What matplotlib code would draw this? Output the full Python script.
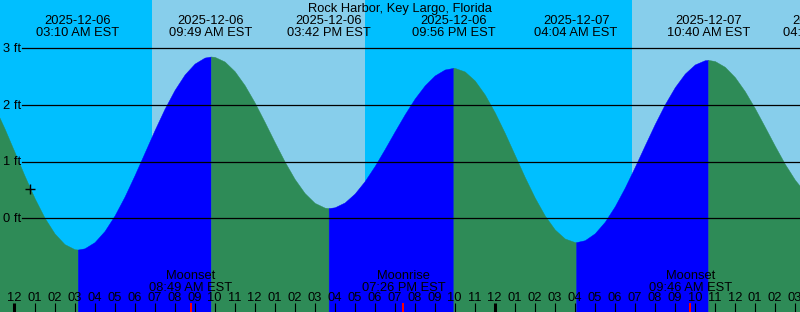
#!/usr/bin/env python3
# Tide graph, Rock Harbor / Key Largo, 2025-12-06 .. 2025-12-07 (XTide style)
import matplotlib
matplotlib.use("Agg")  # no display
import matplotlib.pyplot as plt
import matplotlib.transforms as mtransforms

plt.rcParams["font.family"] = ["Liberation Sans", "DejaVu Sans"]

STATION = "Rock Harbor, Key Largo, Florida"

# hours after 2025-12-06 00:00 EST, water level in ft
hours = [-1.0, -0.5, 0.0, 0.5, 1.0, 1.5, 2.0, 2.5, 3.0, 3.167,
         3.5, 4.0, 4.5, 5.0, 5.5, 6.0, 6.5, 7.0, 7.5, 8.0, 8.5, 9.0, 9.5, 9.817,
         10.0, 10.5, 11.0, 11.5, 12.0, 12.5, 13.0, 13.5, 14.0, 14.5, 15.0, 15.5, 15.7,
         16.0, 16.5, 17.0, 17.5, 18.0, 18.5, 19.0, 19.5, 20.0, 20.5, 21.0, 21.5, 21.933,
         22.0, 22.5, 23.0, 23.5, 24.0, 24.5, 25.0, 25.5, 26.0, 26.5, 27.0, 27.5, 28.0, 28.067,
         28.5, 29.0, 29.5, 30.0, 30.5, 31.0, 31.5, 32.0, 32.5, 33.0, 33.5, 34.0, 34.5, 34.667,
         35.0, 35.5, 36.0, 36.5, 37.0, 37.5, 38.0, 38.5, 39.0, 39.5]
level_ft = [1.965, 1.583, 1.169, 0.752, 0.357, 0.011, -0.266, -0.455, -0.544, -0.55,
            -0.529, -0.420, -0.224, 0.049, 0.382, 0.759, 1.156, 1.554, 1.930, 2.261, 2.532, 2.725, 2.831, 2.85,
            2.844, 2.762, 2.592, 2.346, 2.041, 1.698, 1.343, 1.000, 0.693, 0.445, 0.272, 0.188, 0.18,
            0.194, 0.279, 0.436, 0.655, 0.921, 1.219, 1.529, 1.831, 2.109, 2.341, 2.516, 2.621, 2.65,
            2.649, 2.586, 2.427, 2.181, 1.866, 1.504, 1.115, 0.726, 0.364, 0.049, -0.197, -0.356, -0.419, -0.42,
            -0.386, -0.264, -0.061, 0.212, 0.541, 0.906, 1.287, 1.662, 2.009, 2.310, 2.549, 2.710, 2.785, 2.79,
            2.770, 2.668, 2.487, 2.238, 1.938, 1.610, 1.276, 0.957, 0.679, 0.460]

# high / low tide labels along the top
ext_hours = [3.167, 9.817, 15.7, 21.933, 28.067, 34.667, 40.52]
ext_date = ["2025-12-06", "2025-12-06", "2025-12-06", "2025-12-06",
            "2025-12-07", "2025-12-07", "2025-12-07"]
ext_time = ["03:10 AM EST", "09:49 AM EST", "03:42 PM EST", "09:56 PM EST",
            "04:04 AM EST", "10:40 AM EST", "04:31 PM EST"]

# daylight (sunrise, sunset)
day_spans = [(6.87, 17.5), (30.88, 41.5)]

# moon events along the bottom
moon_hours = [8.817, 19.433, 33.767]
moon_event = ["Moonset", "Moonrise", "Moonset"]
moon_time = ["08:49 AM EST", "07:26 PM EST", "09:46 AM EST"]

ft_lines = [0, 1, 2, 3]
now_hour, now_ft = 0.775, 0.516

W, H = 800, 312
PX_PER_HOUR = 20.01
PX_PER_FT = 56.77
X0_PX = 14.5      # pixel of 2025-12-06 00:00
Y0_PX = 218.3     # pixel of 0 ft

NIGHT = "#00BFFF"
DAY = "#87CEEB"
RISING = "#0000FF"
FALLING = "#2E8B57"
FS = 9.3


def ypx(p):
    """pixel row from top -> axes fraction"""
    return 1.0 - p / H


fig = plt.figure(figsize=(W / 100, H / 100), dpi=100)
ax = fig.add_axes([0, 0, 1, 1])
ax.set_axis_off()
ax.set_xlim(-X0_PX / PX_PER_HOUR, (W - X0_PX) / PX_PER_HOUR)
ax.set_ylim(-(H - Y0_PX) / PX_PER_FT, Y0_PX / PX_PER_FT)
bottom = ax.get_ylim()[0]

# background: night everywhere, day on top
ax.axvspan(-5, 45, color=NIGHT, lw=0, zorder=0)
for a, b in day_spans:
    ax.axvspan(a, b, color=DAY, lw=0, zorder=0.5)

# tide curve, split at each turning point
turns = [0]
for i in range(1, len(level_ft) - 1):
    if (level_ft[i] - level_ft[i - 1]) * (level_ft[i + 1] - level_ft[i]) < 0:
        turns.append(i)
turns.append(len(level_ft) - 1)
for a, b in zip(turns[:-1], turns[1:]):
    col = RISING if level_ft[b] > level_ft[a] else FALLING
    ax.fill_between(hours[a:b + 1], bottom, level_ft[a:b + 1],
                    color=col, lw=0.3, edgecolor=col, zorder=1)

# ft grid lines with labels
for lv in ft_lines:
    ax.axhline(lv, xmin=22 / W, xmax=1, color="black", lw=0.9, zorder=2)
    base = Y0_PX - lv * PX_PER_FT + 3.8
    ax.text(3 / W, ypx(base), f"{lv} ft", transform=ax.transAxes,
            ha="left", va="baseline", fontsize=FS, zorder=3)

top = mtransforms.blended_transform_factory(ax.transData, ax.transAxes)

ax.text(0.5, ypx(12.0), STATION, transform=ax.transAxes,
        ha="center", va="baseline", fontsize=FS, zorder=3)
for t, d, s in zip(ext_hours, ext_date, ext_time):
    ax.text(t, ypx(24.0), d, transform=top, ha="center", va="baseline", fontsize=FS, zorder=3)
    ax.text(t, ypx(35.7), s, transform=top, ha="center", va="baseline", fontsize=FS, zorder=3)

for t, e, s in zip(moon_hours, moon_event, moon_time):
    ax.text(t, ypx(279.0), e, transform=top, ha="center", va="baseline", fontsize=FS, zorder=3)
    ax.text(t, ypx(290.7), s, transform=top, ha="center", va="baseline", fontsize=FS, zorder=3)
    ax.plot([t, t], [ypx(303), ypx(312)], transform=top, color="red", lw=1.4,
            solid_capstyle="butt", zorder=4)

# hour ticks
for hr in range(0, 40):
    lab = f"{(hr % 12) or 12:02d}"
    ax.text(hr, ypx(301.0), lab, transform=top, ha="center", va="baseline", fontsize=FS, zorder=3)
    ax.plot([hr, hr], [ypx(303), ypx(312)], transform=top, color="black",
            lw=2.2 if hr % 24 == 0 else 0.8, solid_capstyle="butt", zorder=4)

# current time marker
ax.plot([now_hour], [now_ft], marker="+", ms=6.5, mew=1.0, color="black", zorder=5)

fig.savefig("out.png", dpi=100)
plt.close(fig)
